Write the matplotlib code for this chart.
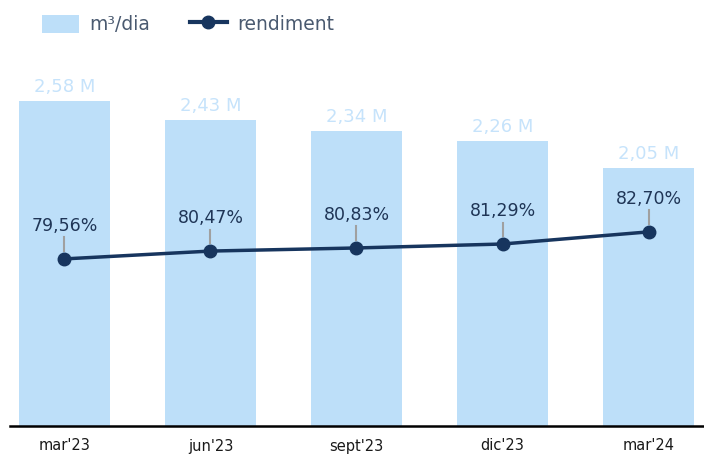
import matplotlib
matplotlib.use("Agg")
from matplotlib import pyplot as plt
from matplotlib.lines import Line2D
from matplotlib.patches import Patch

periods = ["mar'23", "jun'23", "sept'23", "dic'23", "mar'24"]
volume_m = [2.58, 2.43, 2.34, 2.26, 2.05]
rendiment = [79.56, 80.47, 80.83, 81.29, 82.70]

barColor = "#bddff9"
barText = "#c6e3fb"
lineColor = "#17355e"

plt.rcParams['font.family'] = ['DejaVu Sans']

fig = plt.figure(figsize=(7.04, 4.62), dpi=100)
ax = fig.add_axes([10 / 704, 36 / 462, 694 / 704, 386 / 462])
x = list(range(len(periods)))

ax.bar(x, volume_m, width=0.62, color=barColor, zorder=1)
for i, v in enumerate(volume_m):
    ax.text(i, v + 0.04, ("%.2f M" % v).replace(".", ","), ha="center", va="bottom",
            fontsize=13, color=barText)
ax.set_ylim(0, 3.063)
ax.set_xlim(-0.373, 4.38)
ax.set_yticks([])
ax.set_xticks(x)
ax.set_xticklabels(periods, fontsize=10.5, color="#1a1a1a")
ax.tick_params(axis="x", length=0, pad=9)
for s in ["left", "right", "top"]:
    ax.spines[s].set_visible(False)
ax.spines["bottom"].set_linewidth(1.8)
ax.spines["bottom"].set_color("black")

ax2 = ax.twinx()
ax2.set_ylim(60.14, 105.0)
ax2.plot(x, rendiment, color=lineColor, lw=2.5, marker="o", ms=9, zorder=3)
for i, r in enumerate(rendiment):
    ax2.plot([i, i], [r + 0.9, r + 2.5], color="#a0a0a0", lw=1.5, zorder=2)
    ax2.text(i, r + 2.8, ("%.2f%%" % r).replace(".", ","), ha="center", va="bottom",
             fontsize=12.5, color="#1f3556")
ax2.set_yticks([])
for s in ["left", "right", "top", "bottom"]:
    ax2.spines[s].set_visible(False)

handles = [Patch(facecolor=barColor, edgecolor="none"),
           Line2D([0], [0], color=lineColor, lw=3, marker="o", ms=9)]
fig.legend(handles, ["m³/dia", "rendiment"], loc="upper left", bbox_to_anchor=(0.035, 1.005),
           ncol=2, frameon=False, fontsize=13.5, labelcolor="#4a5a70",
           handlelength=2.0, handleheight=1.1, columnspacing=2.1, handletextpad=0.55)

fig.savefig("out.png", dpi=100)
